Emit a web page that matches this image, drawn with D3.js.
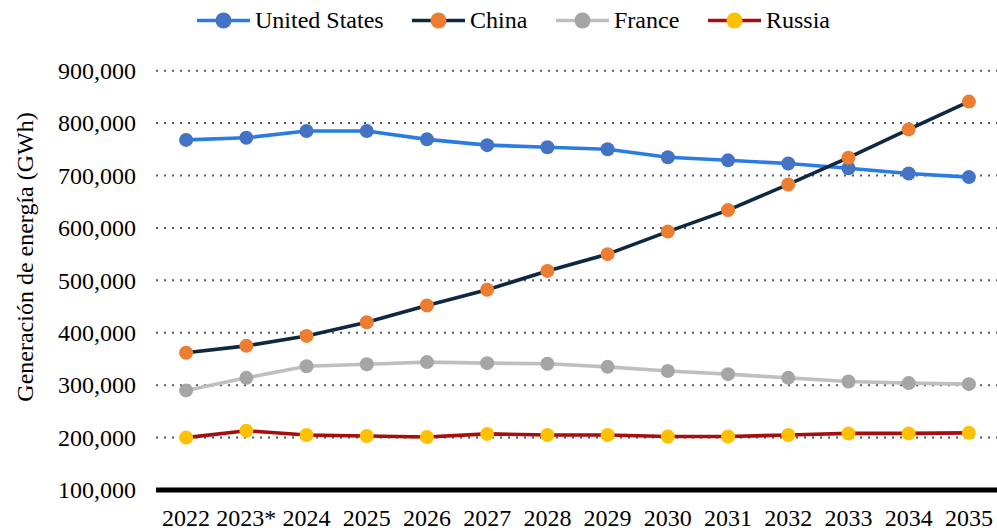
<!DOCTYPE html>
<html>
<head>
<meta charset="utf-8">
<script src="https://cdn.jsdelivr.net/npm/d3@7"></script>
<style>
html,body{margin:0;padding:0;background:#fff;}
svg{display:block;}
svg text{font-family:'Liberation Serif', serif !important;}
</style>
</head>
<body>
<svg id="chart" width="997" height="531"></svg>
<script>
const years = ["2022","2023*","2024","2025","2026","2027","2028","2029","2030","2031","2032","2033","2034","2035"];
const unitedStates = [768000,772000,785000,785000,769000,758000,754000,750000,735000,729000,723000,714000,704000,697000];
const china = [362000,375000,394000,420000,452000,482000,518000,550000,593000,634000,683000,734000,788000,841000];
const france = [290000,314000,336000,340000,344000,342000,341000,335000,327000,321000,314000,307000,304000,302000];
const russia = [200000,213000,205000,203000,201000,207000,205000,205000,202000,202000,205000,208000,208000,209000];
const yTicks = [100000,200000,300000,400000,500000,600000,700000,800000,900000];
const seriesNames = ["United States","China","France","Russia"];
const lineColors = ["#2a7be4","#0e2841","#bfbfbf","#a50e0e"];
const markerColors = ["#4472c4","#ed7d31","#a5a5a5","#ffc000"];

(function(){
const FONT = "'Liberation Serif', serif";
const series = [unitedStates, china, france, russia].map((v,i)=>({name:seriesNames[i], values:v, line:lineColors[i], marker:markerColors[i]}));

const svg = d3.select("#chart");
const pLeft = 156, pRight = 999, pTop = 70.7, pBottom = 490;

const x = d3.scaleBand().domain(years).range([pLeft, pRight]);
const y = d3.scaleLinear().domain([100000, 900000]).range([pBottom, pTop]);

// gridlines
svg.append("g").selectAll("line").data(yTicks.filter(t=>t>100000)).join("line")
  .attr("x1", pLeft).attr("x2", pRight)
  .attr("y1", d=>y(d)).attr("y2", d=>y(d))
  .attr("stroke", "#595959").attr("stroke-width", 2).attr("stroke-dasharray", "2,6");

// y axis
const yAxis = d3.axisLeft(y).tickValues(yTicks).tickSize(0).tickPadding(0)
  .tickFormat(d3.format(","));
const gy = svg.append("g").attr("transform", `translate(${pLeft-20},0)`).call(yAxis);
gy.attr("font-family", null);
gy.select(".domain").remove();
gy.selectAll("text").attr("font-size", 24).attr("fill", "#000")
  .style("font-family", FONT).attr("dy", "0.32em");

// x axis
const xAxis = d3.axisBottom(x).tickSize(0).tickPadding(0);
const gx = svg.append("g").attr("transform", `translate(0,${pBottom})`).call(xAxis);
gx.attr("font-family", null);
gx.select(".domain").remove();
gx.selectAll("text").attr("font-size", 24).attr("fill", "#000")
  .style("font-family", FONT).attr("dy", "1.48em");

// baseline
svg.append("line").attr("x1", pLeft).attr("x2", pRight).attr("y1", pBottom).attr("y2", pBottom)
  .attr("stroke", "#000").attr("stroke-width", 5);

// y label
svg.append("text").attr("transform", `translate(33,257) rotate(-90)`)
  .attr("text-anchor", "middle").attr("font-size", 24).attr("fill", "#000")
  .style("font-family", FONT)
  .text("Generación de energía (GWh)");

// lines
const line = d3.line().x((d,i)=>x(years[i]) + x.bandwidth()/2).y(d=>y(d));
const g = svg.append("g");
series.forEach(s=>{
  g.append("path").datum(s.values).attr("d", line).attr("fill","none")
    .attr("stroke", s.line).attr("stroke-width", 3.6).attr("stroke-linejoin","round");
});
series.forEach(s=>{
  g.append("g").selectAll("circle").data(s.values).join("circle")
    .attr("cx", (d,i)=>x(years[i]) + x.bandwidth()/2).attr("cy", d=>y(d))
    .attr("r", 7).attr("fill", s.marker);
});

// legend
const legendX = [197, 412, 556, 708];
const lg = svg.append("g");
series.forEach((s,i)=>{
  const gx0 = legendX[i];
  lg.append("line").attr("x1", gx0).attr("x2", gx0+53).attr("y1", 20.5).attr("y2", 20.5)
    .attr("stroke", s.line).attr("stroke-width", 3.6);
  lg.append("circle").attr("cx", gx0+26.5).attr("cy", 20.5).attr("r", 8).attr("fill", s.marker);
  lg.append("text").attr("x", gx0+58).attr("y", 28).attr("font-size", 24).attr("fill","#000")
    .style("font-family", FONT).text(s.name);
});
})();
</script>
</body>
</html>
